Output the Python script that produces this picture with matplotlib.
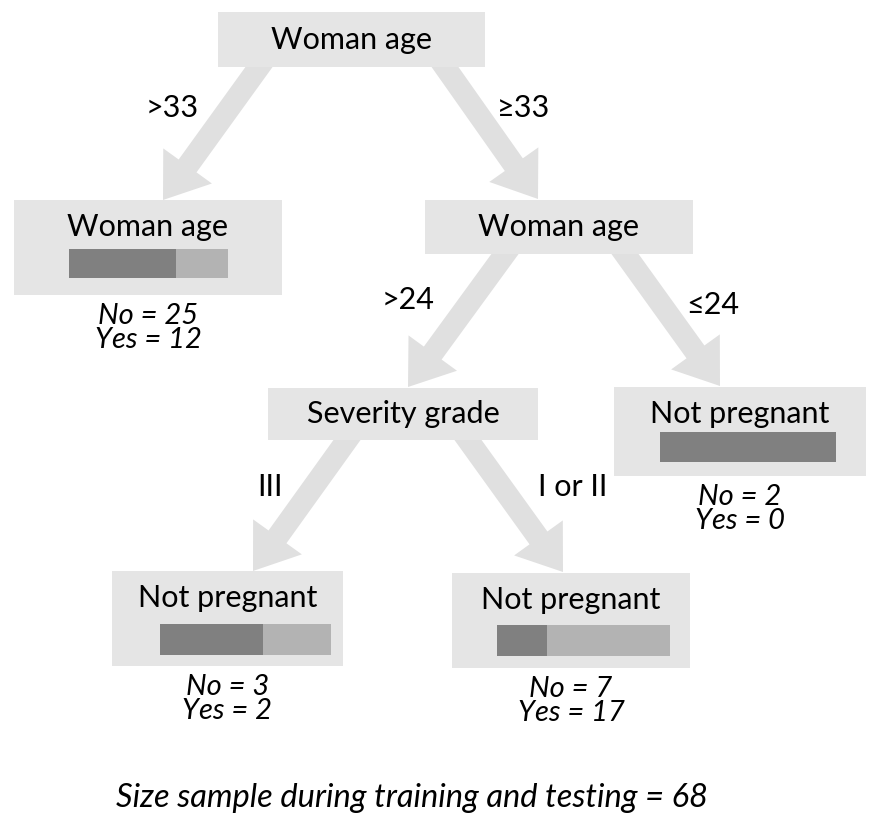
import matplotlib.pyplot as plt
from matplotlib.patches import Rectangle, FancyArrow

plt.rcParams['font.family'] = ['Lato', 'DejaVu Sans']

# дерево решений: узлы, подписи ветвей и распределение No / Yes в листьях
node_titles = ["Woman age", "Woman age", "Woman age", "Severity grade",
               "Not pregnant", "Not pregnant", "Not pregnant"]
count_no = [None, 25, None, None, 2, 3, 7]
count_yes = [None, 12, None, None, 0, 2, 17]
edge_labels = [">33", "≥33", ">24", "≤24", "III", "I or II"]
edges = [(0, 1), (0, 2), (2, 3), (2, 4), (3, 5), (3, 6)]
sample_size = 68

# расположение узлов (x0, y0, x1, y1) в пикселях
boxes = [(218, 12, 485, 67), (14, 200, 282, 295), (425, 200, 693, 254),
         (268, 388, 538, 440), (614, 387, 866, 476), (112, 571, 343, 666),
         (452, 573, 690, 668)]
bars = {1: (69, 228, 249, 278), 4: (660, 836, 432, 462),
        5: (160, 331, 624, 655), 6: (497, 670, 625, 656)}
arrow_pts = [((259, 67), (163, 200)), ((445, 67), (538, 199)),
             ((505, 254), (408, 387)), ((625, 254), (720, 386)),
             ((347, 440), (253, 571)), ((468, 440), (563, 572))]
label_pos = [(172, 108), (524, 108), (408, 300), (713, 305),
             (270, 487), (573, 487)]

box_col = '#e5e5e5'
arrow_col = '#e0e0e0'
dark = '#808080'
light = '#b3b3b3'
fs = 22

fig = plt.figure(figsize=(8.7, 8.14), dpi=100)
ax = fig.add_axes([0, 0, 1, 1])
ax.set_xlim(0, 870)
ax.set_ylim(814, 0)
ax.axis('off')

# стрелки
for (p0, p1), lab, lp in zip(arrow_pts, edge_labels, label_pos):
    dx = p1[0] - p0[0]
    dy = p1[1] - p0[1]
    L = (dx**2 + dy**2) ** 0.5
    ux, uy = dx / L, dy / L
    sx, sy = p0[0] - 15 * ux, p0[1] - 15 * uy
    ax.add_patch(FancyArrow(sx, sy, p1[0] - sx, p1[1] - sy, width=22,
                            head_width=60, head_length=42,
                            length_includes_head=True, color=arrow_col,
                            lw=0, zorder=1))
    ax.text(lp[0], lp[1], lab, fontsize=fs, ha='center', va='center',
            zorder=4)

# узлы
for i, (title, b) in enumerate(zip(node_titles, boxes)):
    x0, y0, x1, y1 = b
    ax.add_patch(Rectangle((x0, y0), x1 - x0, y1 - y0, color=box_col,
                           lw=0, zorder=2))
    cx = (x0 + x1) / 2
    if i in bars:
        ty = y0 + 27
    else:
        ty = (y0 + y1) / 2
    ax.text(cx, ty, title, fontsize=fs, ha='center', va='center', zorder=4)
    if i in bars:
        bx0, bx1, by0, by1 = bars[i]
        n, y = count_no[i], count_yes[i]
        w = bx1 - bx0
        wn = w * n / (n + y)
        ax.barh((by0 + by1) / 2, wn, left=bx0, height=by1 - by0,
                color=dark, zorder=3)
        ax.barh((by0 + by1) / 2, w - wn, left=bx0 + wn, height=by1 - by0,
                color=light, zorder=3)
        ax.text(cx, y1 + 21, f"No = {n}", fontsize=21, style='italic',
                ha='center', va='center', zorder=4)
        ax.text(cx, y1 + 45, f"Yes = {y}", fontsize=21, style='italic',
                ha='center', va='center', zorder=4)

ax.text(412, 798, f"Size sample during training and testing = {sample_size}",
        fontsize=23.5, style='italic', ha='center', va='center')

fig.savefig('out.png', dpi=100)
